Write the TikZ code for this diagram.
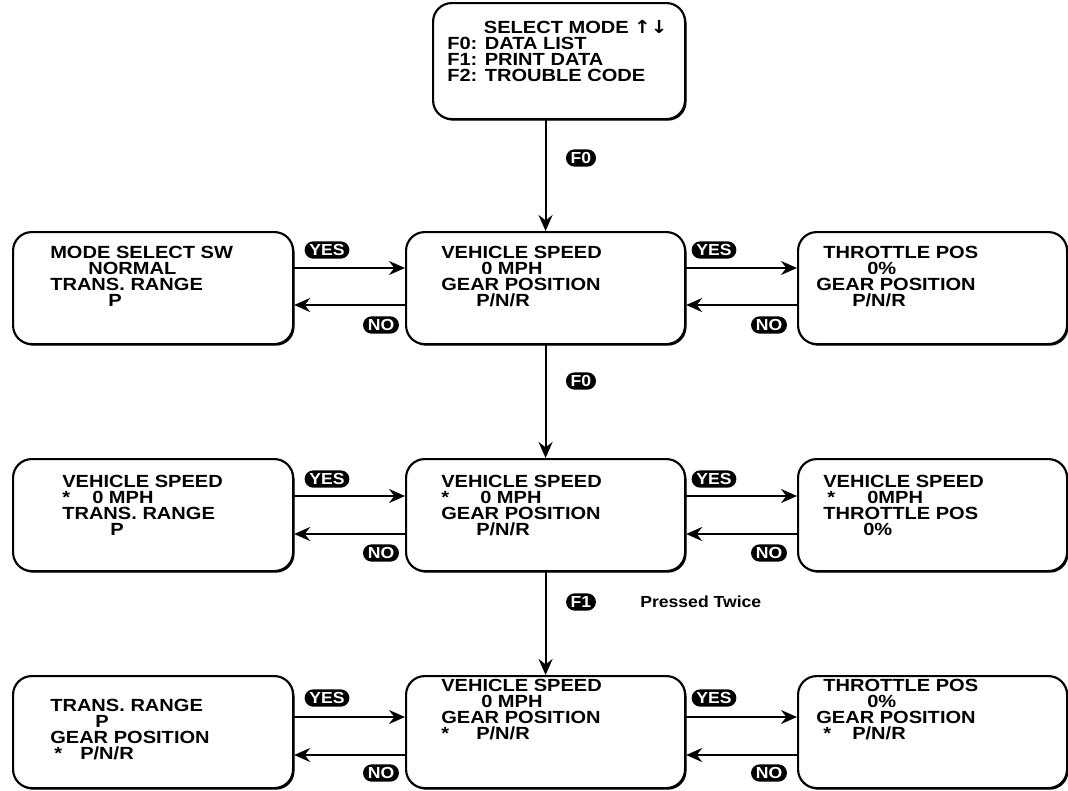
\documentclass[tikz,border=0pt]{standalone}
\usepackage{fontspec}
\setmainfont{Liberation Sans}
\newfontfamily\widefont{Liberation Sans}[FakeStretch=1.14]
\newfontfamily\badgefont{Liberation Sans}[FakeStretch=1.1]
\newfontfamily\symfont{DejaVu Sans}[FakeStretch=1.1]
\usetikzlibrary{arrows.meta,shapes.misc,shadows}
\begin{document}
\begin{tikzpicture}[x=0.75pt,y=-0.75pt,
  box/.style={draw, line width=1.6pt, fill=white, rounded corners=14pt, inner sep=0pt, anchor=north west,
    drop shadow={shadow xshift=1.1pt, shadow yshift=-1.2pt, opacity=1, fill=black}},
  txt/.style={anchor=north west, inner sep=0pt, align=left, font=\widefont\bfseries\fontsize{13.2pt}{12pt}\selectfont},
  badge/.style={rounded rectangle, fill=black, text=white, inner xsep=2pt, inner ysep=0pt,
    minimum height=13pt, font=\badgefont\bfseries\fontsize{12pt}{12pt}\selectfont},
  arr/.style={line width=1.5pt, -{Stealth[length=12pt,width=10.5pt,inset=4pt]}}]
\useasboundingbox (0,0) rectangle (1068,790);

% boxes
\node[box, minimum width=189pt, minimum height=87pt] (top) at (432,2) {};
\node[box, minimum width=210pt, minimum height=84pt] (L1) at (12,231) {};
\node[box, minimum width=209.25pt, minimum height=84pt] (M1) at (405,231) {};
\node[box, minimum width=201.75pt, minimum height=84pt] (R1) at (797,231) {};
\node[box, minimum width=210pt, minimum height=84pt] (L2) at (12,458) {};
\node[box, minimum width=209.25pt, minimum height=84pt] (M2) at (405,458) {};
\node[box, minimum width=201.75pt, minimum height=84pt] (R2) at (797,458) {};
\node[box, minimum width=210pt, minimum height=84pt] (L3) at (12,675) {};
\node[box, minimum width=209.25pt, minimum height=84pt] (M3) at (405,675) {};
\node[box, minimum width=201.75pt, minimum height=84pt] (R3) at (797,675) {};

% texts
\node[txt] (ttop) at (447,21) {\hspace*{27.5pt}SELECT MODE\hspace{4pt}\smash{\symfont\bfseries\fontsize{13.5pt}{12pt}\selectfont ↑\hspace{0pt}↓}\\F0: DATA LIST\\F1: PRINT DATA\\F2: TROUBLE CODE};

\node[txt] (tL1) at (50,246) {MODE SELECT SW\\\hspace*{28.5pt}NORMAL\\TRANS. RANGE\\\hspace*{43.5pt}P};
\node[txt] (tM1) at (441,246) {VEHICLE SPEED\\\hspace*{30pt}0 MPH\\GEAR POSITION\\\hspace*{26.25pt}P/N/R};
\node[txt] (tR1) at (816,246) {\hspace*{5.25pt}THROTTLE POS\\\hspace*{38.25pt}0\%\\GEAR POSITION\\\hspace*{27pt}P/N/R};

\node[txt] (tL2) at (62,475) {VEHICLE SPEED\\\makebox[22.5pt][l]{*}0 MPH\\TRANS. RANGE\\\hspace*{36pt}P};
\node[txt] (tM2) at (441,475) {VEHICLE SPEED\\\makebox[29.25pt][l]{*}0 MPH\\GEAR POSITION\\\hspace*{26.25pt}P/N/R};
\node[txt] (tR2) at (823,475) {VEHICLE SPEED\\\hspace*{3pt}\makebox[30pt][l]{*}0MPH\\THROTTLE POS\\\hspace*{30pt}0\%};

\node[txt] (tL3) at (50,699) {TRANS. RANGE\\\hspace*{33.75pt}P\\GEAR POSITION\\\hspace*{3pt}\makebox[19.5pt][l]{*}P/N/R};
\node[txt] (tM3) at (441,679) {VEHICLE SPEED\\\hspace*{30pt}0 MPH\\GEAR POSITION\\\makebox[26.25pt][l]{*}P/N/R};
\node[txt] (tR3) at (816,679) {\hspace*{5.25pt}THROTTLE POS\\\hspace*{38.25pt}0\%\\GEAR POSITION\\\hspace*{5.25pt}\makebox[21.75pt][l]{*}P/N/R};

% arrow levels
\coordinate (ya1) at (0,268); \coordinate (yb1) at (0,305);
\coordinate (ya2) at (0,496); \coordinate (yb2) at (0,534);
\coordinate (ya3) at (0,717); \coordinate (yb3) at (0,755);

% vertical arrows
\draw[arr] (top.south -| M1.north) -- (M1.north);
\draw[arr] (M1.south) -- (M2.north);
\draw[arr] (M2.south) -- (M3.north);
\node[badge] (f0a) at (581,158) {F0};
\node[badge] (f0b) at (581,381) {F0};
\node[badge] (f1) at (581,602) {F1};
\node[anchor=west, inner sep=0pt, font=\badgefont\bfseries\fontsize{12pt}{12pt}\selectfont] (pt) at (640,602) {Pressed Twice};

% horizontal arrows
\foreach \r in {1,2,3}{
  \draw[arr] (L\r.east |- ya\r) -- (M\r.west |- ya\r);
  \draw[arr] (M\r.west |- yb\r) -- (L\r.east |- yb\r);
  \draw[arr] (M\r.east |- ya\r) -- (R\r.west |- ya\r);
  \draw[arr] (R\r.west |- yb\r) -- (M\r.east |- yb\r);
}
\node[badge] (y1l) at (327,250) {YES};
\node[badge] (n1l) at (381,325) {NO};
\node[badge] (y1r) at (714,250) {YES};
\node[badge] (n1r) at (769,325) {NO};
\node[badge] (y2l) at (327,479) {YES};
\node[badge] (n2l) at (381,553) {NO};
\node[badge] (y2r) at (714,479) {YES};
\node[badge] (n2r) at (769,553) {NO};
\node[badge] (y3l) at (327,698) {YES};
\node[badge] (n3l) at (381,773) {NO};
\node[badge] (y3r) at (714,698) {YES};
\node[badge] (n3r) at (769,773) {NO};
\end{tikzpicture}
\end{document}
